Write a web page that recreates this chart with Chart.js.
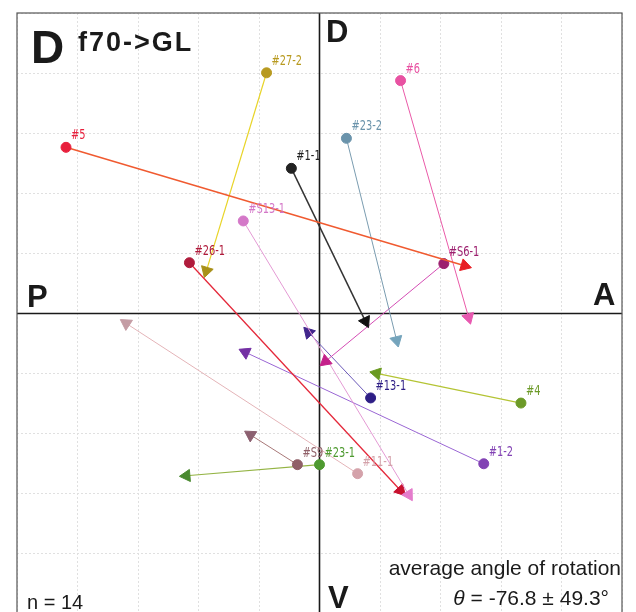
<!DOCTYPE html>
<html><head><meta charset="utf-8">
<script src="https://cdn.jsdelivr.net/npm/chart.js@4.4.1/dist/chart.umd.min.js"></script>
<style>
html,body{margin:0;padding:0;background:#fff;overflow:hidden;width:636px;height:612px}
#wrap{position:relative;width:636px;height:622px}
</style></head>
<body><div id="wrap"><canvas id="c" width="636" height="622"></canvas></div>
<script>
// ---- data (units: -100..100 on both axes) ----
const labels   = ['#5','#27-2','#1-1','#23-2','#6','#S6-1','#S13-1','#26-1','#13-1','#4','#1-2','#S9','#23-1','#11-1'];
const startX   = [-83.8,-17.5, -9.3,  8.9, 26.8, 41.1,-25.2,-43.0, 16.9, 66.6, 54.3, -7.3,  0.0, 12.6];
const startY   = [ 55.3, 80.1, 48.3, 58.3, 77.5, 16.6, 30.8, 16.9,-28.1,-29.8,-50.0,-50.3,-50.3,-53.3];
const endX     = [ 48.0,-37.4, 15.2, 25.5, 49.3,  2.0, 29.5, 26.8, -3.6, 18.9,-24.5,-22.8,-44.0,-63.9];
const endY     = [ 15.9, 14.2, -2.6, -8.9, -1.3,-15.9,-60.3,-58.9, -6.3,-19.9,-12.9,-40.4,-54.0, -3.3];
const pointCol = ['#e8203c','#b89a20','#222222','#6a93ab','#e852a2','#9c1f6e','#d478c8','#b01c3c','#2e1e86','#6c9a28','#8242b4','#906068','#4e9a30','#d4a2aa'];
const lineCol  = ['#f05a30','#e8d428','#333333','#7a9cb0','#ea5aa8','#d44cb4','#e49ad4','#e4283a','#6a58b8','#b4c434','#9a66d4','#a87878','#94b444','#e4b4b8'];
const arrowCol = ['#e81e24','#a89018','#111111','#74a4bc','#e858b0','#c4208a','#e47ccc','#c8102e','#42268c','#6a9a20','#7430a4','#8c6070','#4a8a30','#c49ca4'];
const lineW    = [1.5,1.2,1.5,1,1,1,1,1.3,1,1.2,1,1,1.2,1];
const axisMin = -100, axisMax = 100, gridStep = 20;

const datasets = labels.map((l,i)=>{
  const dx = endX[i]-startX[i], dy = endY[i]-startY[i];
  const rot = Math.atan2(dx, dy)*180/Math.PI;
  return {
    label:l,
    data:[{x:startX[i],y:startY[i]},{x:endX[i],y:endY[i]}],
    showLine:true,
    borderColor:lineCol[i],
    borderWidth:lineW[i],
    pointStyle:['circle','triangle'],
    pointRadius:[5,7],
    pointRotation:[0,rot],
    pointBackgroundColor:[pointCol[i],arrowCol[i]],
    pointBorderColor:[pointCol[i],arrowCol[i]],
    pointBorderWidth:1,
    pointHoverRadius:[5,7]
  };
});

const framePlugin = {
  id:'frame',
  beforeDatasetsDraw(chart){
    const {ctx, chartArea:a, scales:{x,y}} = chart;
    ctx.save();
    ctx.strokeStyle='#1a1a1a'; ctx.lineWidth=1.6;
    const x0=x.getPixelForValue(0), y0=y.getPixelForValue(0);
    ctx.beginPath(); ctx.moveTo(x0,a.top); ctx.lineTo(x0,a.bottom); ctx.stroke();
    ctx.beginPath(); ctx.moveTo(a.left,y0); ctx.lineTo(a.right,y0); ctx.stroke();
    ctx.strokeStyle='#555'; ctx.lineWidth=1.2;
    ctx.strokeRect(a.left,a.top,a.right-a.left,a.bottom-a.top);
    ctx.restore();
  },
  afterDatasetsDraw(chart){
    const {ctx, scales:{x,y}} = chart;
    ctx.save();
    ctx.font='14px "DejaVu Sans Condensed", "DejaVu Sans", sans-serif';
    ctx.textBaseline='alphabetic';
    labels.forEach((l,i)=>{
      ctx.fillStyle=pointCol[i];
      const px=x.getPixelForValue(startX[i])+5, py=y.getPixelForValue(startY[i])-8;
      ctx.save(); ctx.translate(px,py); ctx.scale(0.78,1);
      ctx.fillText(l,0,0);
      ctx.restore();
    });
    // titles
    ctx.fillStyle='#1a1a1a';
    ctx.font='bold 46px "Liberation Sans", Arial, sans-serif';
    ctx.fillText('D',31,63);
    ctx.font='bold 27px "Liberation Sans", Arial, sans-serif';
    ctx.letterSpacing='2px';
    ctx.fillText('f70->GL',78,51);
    ctx.letterSpacing='0px';
    ctx.font='bold 31px "Liberation Sans", Arial, sans-serif';
    ctx.fillText('D',326,42);
    ctx.fillText('P',27,307);
    ctx.fillText('A',593,305);
    ctx.fillText('V',328,608);
    ctx.font='20px "Liberation Sans", Arial, sans-serif';
    ctx.fillText('n = 14',27,609);
    ctx.font='21px "Liberation Sans", Arial, sans-serif';
    ctx.textAlign='right';
    ctx.fillText('average angle of rotation',621,575);
    const rest=' = -76.8 \u00b1 49.3\u00b0';
    ctx.fillText(rest,609,605);
    const w=ctx.measureText(rest).width;
    ctx.font='italic 21px "Liberation Sans", Arial, sans-serif';
    ctx.fillText('\u03b8',609-w,605);
    ctx.restore();
  }
};

new Chart(document.getElementById('c'),{
  type:'scatter',
  data:{datasets},
  options:{
    responsive:false,
    animation:false,
    layout:{padding:{left:17,right:14,top:13,bottom:5}},
    plugins:{legend:{display:false},tooltip:{enabled:false}},
    scales:{
      x:{type:'linear',min:axisMin,max:axisMax,
         ticks:{display:false,stepSize:gridStep},
         grid:{color:'#e0e0e0',lineWidth:1,drawTicks:false},
         border:{display:false,dash:[2,2]}},
      y:{type:'linear',min:axisMin,max:axisMax,
         ticks:{display:false,stepSize:gridStep},
         grid:{color:'#e0e0e0',lineWidth:1,drawTicks:false},
         border:{display:false,dash:[2,2]}}
    }
  },
  plugins:[framePlugin]
});
</script></body></html>
